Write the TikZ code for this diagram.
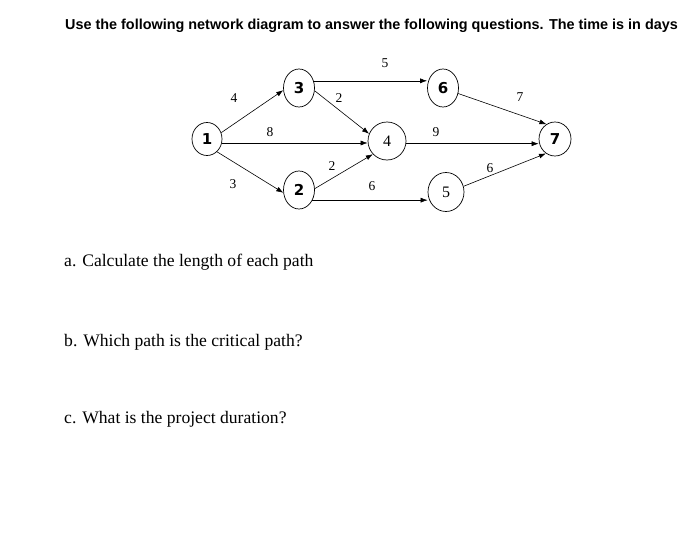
\documentclass[tikz,border=0pt]{standalone}
\usepackage{fontspec}
\setmainfont{Liberation Serif}
\newfontfamily\titlefont{Liberation Sans}
\newfontfamily\handfont{DejaVu Sans}
\usetikzlibrary{shapes.geometric,arrows.meta}
\begin{document}
\begin{tikzpicture}[x=1pt,y=-1pt,
  evnode/.style={draw,ellipse,inner sep=0pt,line width=0.7pt,minimum width=31pt,minimum height=38pt},
  hand/.style={font=\handfont\bfseries\fontsize{15}{15}\selectfont},
  serifnum/.style={font=\fontsize{16}{16}\selectfont},
  arr/.style={draw,line width=0.6pt,-{Latex[length=7pt,width=5pt]}},
  lbl/.style={font=\fontsize{13.5}{13.5}\selectfont,inner sep=0pt},
  question/.style={font=\fontsize{17.6}{17.6}\selectfont,anchor=base west,inner sep=0pt}]
\useasboundingbox (0,0) rectangle (700,543);
\fill[white] (0,0) rectangle (700,543);
\node[anchor=base west,inner sep=0pt,font=\titlefont\bfseries\fontsize{14.4}{14.4}\selectfont] (title) at (65,30)
  {Use the following network diagram to answer the following questions. The time is in days};
% nodes
\node[evnode,hand,minimum width=30pt,minimum height=33pt] (n1) at (207,139) {1};
\node[evnode,hand] (n3) at (299,88) {3};
\node[evnode,hand] (n2) at (299,190) {2};
\node[evnode,serifnum,minimum width=38pt,minimum height=38pt] (n4) at (387,141) {4};
\node[evnode,hand] (n6) at (443,88) {6};
\node[evnode,serifnum,minimum width=36pt,minimum height=39pt] (n5) at (446,192) {5};
\node[evnode,hand,minimum width=32pt,minimum height=34pt] (n7) at (555,139) {7};
% edges
\draw[arr] (n1.24) -- (n3.188);
\draw[arr] (n1.-52) -- (n2.190);
\draw[arr] (n1.-15) -- (n1.-15 -| n4.west);
\draw[arr] (n3.-10) -- (n4.158);
\draw[arr] (n2.5) -- (n4.223);
\draw[arr] (n3.26) -- (n3.26 -| n6.west);
\draw[arr] (n2.-37) -- (n2.-37 -| n5.west);
\draw[arr] (n6.-20) -- (n7.120);
\draw[arr] (n4.-8) -- (n4.-8 -| n7.west);
\draw[arr] (n5.18) -- (n7.238);
% labels
\node[lbl] (l13) at (234,98) {4};
\node[lbl] (l36) at (385,63) {5};
\node[lbl] (l34) at (339,98) {2};
\node[lbl] (l67) at (520,97) {7};
\node[lbl] (l14) at (270,132) {8};
\node[lbl] (l47) at (436,132) {9};
\node[lbl] (l24) at (332,166) {2};
\node[lbl] (l12) at (233,184) {3};
\node[lbl] (l25) at (372,186) {6};
\node[lbl] (l57) at (490,168) {6};
% questions
\node[question] (qa) at (64,266) {a. Calculate the length of each path};
\node[question] (qb) at (64,346) {b. Which path is the critical path?};
\node[question] (qc) at (64,423) {c. What is the project duration?};
\end{tikzpicture}
\end{document}
